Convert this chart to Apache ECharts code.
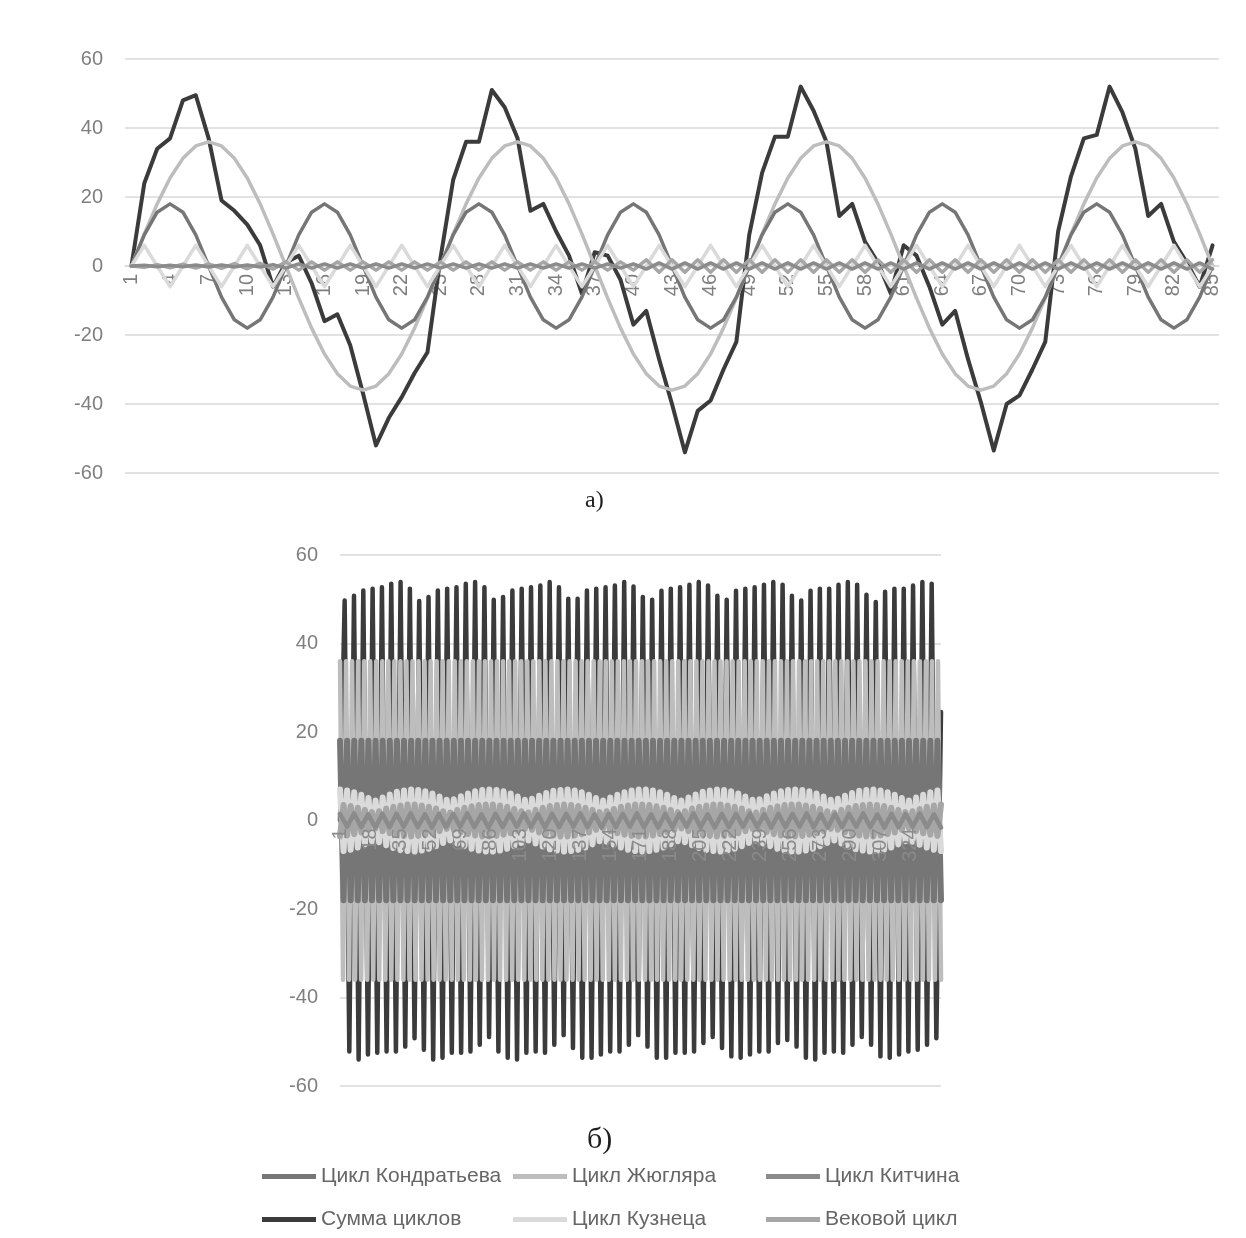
<!DOCTYPE html>
<html><head><meta charset="UTF-8">
<title>Циклы</title>
<script src="https://cdn.jsdelivr.net/npm/echarts@6/dist/echarts.min.js"></script>
<style>
    *{margin:0;padding:0;}
    html,body{width:100%;height:100%;background:#fff;}
    #chart{width:1246px;height:1238px;}
</style>
</head>
<body>
<div id="chart"></div>
<script>
    // --- а) 85 шагов ---
    var stepsA = [1,2,3,4,5,6,7,8,9,10,11,12,13,14,15,16,17,18,19,20,21,22,23,24,25,26,27,28,29,30,
        31,32,33,34,35,36,37,38,39,40,41,42,43,44,45,46,47,48,49,50,51,52,53,54,55,56,57,58,59,60,
        61,62,63,64,65,66,67,68,69,70,71,72,73,74,75,76,77,78,79,80,81,82,83,84,85];

    var kondratievA = [0,9,15.6,18,15.6,9,0,-9,-15.6,-18,-15.6,-9, 0,9,15.6,18,15.6,9,0,-9,-15.6,-18,-15.6,-9,
        0,9,15.6,18,15.6,9,0,-9,-15.6,-18,-15.6,-9, 0,9,15.6,18,15.6,9,0,-9,-15.6,-18,-15.6,-9,
        0,9,15.6,18,15.6,9,0,-9,-15.6,-18,-15.6,-9, 0,9,15.6,18,15.6,9,0,-9,-15.6,-18,-15.6,-9,
        0,9,15.6,18,15.6,9,0,-9,-15.6,-18,-15.6,-9, 0];

    var juglarA = [0,9.3,18,25.5,31.2,34.8,36,34.8,31.2,25.5,18,9.3,0,-9.3,-18,-25.5,-31.2,-34.8,-36,-34.8,-31.2,-25.5,-18,-9.3,
        0,9.3,18,25.5,31.2,34.8,36,34.8,31.2,25.5,18,9.3,0,-9.3,-18,-25.5,-31.2,-34.8,-36,-34.8,-31.2,-25.5,-18,-9.3,
        0,9.3,18,25.5,31.2,34.8,36,34.8,31.2,25.5,18,9.3,0,-9.3,-18,-25.5,-31.2,-34.8,-36,-34.8,-31.2,-25.5,-18,-9.3,
        0,9.3,18,25.5,31.2,34.8,36,34.8,31.2,25.5,18,9.3,0];

    var kitchinA = [0,0.2,-0.2,0.2,-0.2,0.3,-0.3,0.3,-0.3,0.3,-0.3,0.4,
        -0.6,0.6,-0.6,0.6,-0.6,0.6,-0.6,0.6,-0.6,0.6,-0.6,0.6,-0.6,0.6,
        -0.6,0.6,-0.6,0.6,-0.6,0.6,-0.6,0.6,-0.6,0.6,-0.6,0.6,-0.6,0.6,
        -0.9,0.9,-0.9,0.9,-0.9,0.9,-0.9,0.9,-0.9,0.9,-0.9,0.9,-0.9,0.9,-0.9,
        0.9,-0.9,0.9,-0.9,0.9,-0.9,0.9,-0.9,0.9,-0.9,0.9,-0.9,0.9,-0.9,0.9,
        -0.9,0.9,-0.9,0.9,-0.9,0.9,-0.9,0.9,-0.9,0.9,-0.9,0.9,-0.9,0.9,-0.9];

    var sumA = [0,24,34,37,48,49.5,37,19,16,12,6,-6,1,3,-5,-16,-14,-23,-37,-52,-44,-38,-31,-25,
        2,25,36,36,51,46,37,16,18,10,3,-8,4,3,-4,-17,-13,-27,-40,-54,-42,-39,-30,-22,
        9,27,37.5,37.5,52,45,36,14.5,18,7,1,-8,6,3,-6,-17,-13,-27,-39.5,-53.5,-40,-37.5,-30,-22,
        10,26,37,38,52,44.5,34,14.5,18,7,1,-6,6];

    var kuznetsA = [0,6,0,-6,0,6,0,-6,0,6,0,-6,0,6,0,-6,0,6,0,-6,0,6,0,-6,0,6,0,-6,0,6,0,-6,
        0,6,0,-6,0,6,0,-6,0,6,0,-6,0,6,0,-6,0,6,0,-6,0,6,0,-6,0,6,0,-6,0,6,0,-6,
        0,6,0,-6,0,6,0,-6,0,6,0,-6,0,6,0,-6,0,6,0,-6,0];

    var secularA = [0,-0.4,0.4,-0.5,0.5,-0.6,0.6,-0.7,0.7,-0.8,0.8,-0.9,
        1.2,-1.2,1.2,-1.2,1.2,-1.2,1.2,-1.2,1.2,-1.2,1.2,-1.2,1.2,-1.2,
        1.2,-1.2,1.2,-1.2,1.2,-1.2,1.2,-1.2,1.2,-1.2,1.2,-1.2,1.2,-1.2,
        1.8,-1.8,1.8,-1.8,1.8,-1.8,1.8,-1.8,1.8,-1.8,1.8,-1.8,1.8,-1.8,1.8,
        -1.8,1.8,-1.8,1.8,-1.8,1.8,-1.8,1.8,-1.8,1.8,-1.8,1.8,-1.8,1.8,-1.8,
        1.8,-1.8,1.8,-1.8,1.8,-1.8,1.8,-1.8,1.8,-1.8,1.8,-1.8,1.8,-1.8,1.8];

    // --- б) длинный ряд (шкала 0..340, подписи шагом 17) ---
    var sumTopsB = [49.7,50.8,52.0,52.4,52.7,53.5,53.9,52.4, 49.6,50.5,52.0,52.4,52.7,53.5,53.9,52.7,
        49.9,50.5,52.0,52.4,52.7,53.1,53.9,52.7, 50.1,50.1,52.0,52.4,52.7,53.1,53.9,52.9,
        50.5,49.9,51.9,52.4,52.7,53.3,53.9,53.1, 50.8,49.9,51.9,52.4,52.7,53.3,53.9,53.3,
        50.8,49.7,51.9,52.4,52.4,53.3,53.9,53.3, 51.0,49.4,51.7,52.4,52.4,53.1,53.9,53.5];
    var sumTroughsB = [-52.2,-54,-52.9,-52.5,-52.2,-52.2,-51.1,-49.2, -51.8,-54,-53.6,-52.5,-52.5,-52.2,-50.7,-48.9,
        -52.2,-53.6,-54,-52.5,-52.2,-52.5,-50.7,-48.5, -51.4,-53.6,-53.6,-52.9,-52.2,-52.2,-50.7,-48.5,
        -51.1,-53.6,-53.6,-52.5,-52.5,-52.2,-50.3,-48.9, -51.4,-53.3,-53.6,-52.9,-52.2,-52.2,-50.3,-49.6,
        -51.1,-53.6,-54,-52.5,-52.2,-52.5,-50.7,-48.9, -50.7,-53.3,-53.6,-52.9,-52.2,-51.8,-50.7,-49.2];
    var sumStartB = 0, sumEndB = 24.5;

    var juglarB = [36,-36,36,-36,36,-36,36,-36,36,-36,36,-36,36,-36,36,-36,36,-36,36,-36,
        36,-36,36,-36,36,-36,36,-36,36,-36,36,-36,36,-36,36,-36,36,-36,36,-36,
        36,-36,36,-36,36,-36,36,-36,36,-36,36,-36,36,-36,36,-36,36,-36,36,-36,
        36,-36,36,-36,36,-36,36,-36,36,-36,36,-36,36,-36,36,-36,36,-36,36,-36,
        36,-36,36,-36,36,-36,36,-36,36,-36,36,-36,36,-36,36,-36,36,-36,36,-36,
        36,-36,36,-36,36,-36,36,-36,36,-36,36,-36,36,-36,36,-36,36,-36,36,-36,
        36,-36,36,-36,36,-36,36,-36,36,-36,36,-36,36,-36,36,-36,36,-36,36,-36,
        36,-36,36,-36,36,-36,36,-36,36,-36,36,-36,36,-36,36,-36,36,-36,36,-36,
        36,-36,36,-36,36,-36,36,-36,36,-36,36,-36,36,-36,36,-36,36,-36,36,-36,
        36,-36,36,-36,36,-36,36,-36,36,-36,36,-36,36,-36,36,-36,36,-36,36,-36];

    var kondratievB = [18,-18,18,-18,18,-18,18,-18,18,-18,18,-18,18,-18,18,-18,18,-18,18,-18,
        18,-18,18,-18,18,-18,18,-18,18,-18,18,-18,18,-18,18,-18,18,-18,18,-18,
        18,-18,18,-18,18,-18,18,-18,18,-18,18,-18,18,-18,18,-18,18,-18,18,-18,
        18,-18,18,-18,18,-18,18,-18,18,-18,18,-18,18,-18,18,-18,18,-18,18,-18,
        18,-18,18,-18,18,-18,18,-18,18,-18,18,-18,18,-18,18,-18,18,-18,18,-18,
        18,-18,18,-18,18,-18,18,-18,18,-18,18,-18,18,-18,18,-18,18,-18,18,-18,
        18,-18,18,-18,18,-18,18,-18,18,-18,18,-18,18,-18,18,-18,18,-18,18,-18,
        18,-18,18,-18,18,-18,18,-18,18,-18,18,-18,18,-18,18,-18,18,-18,18,-18,
        18,-18,18,-18,18,-18,18,-18,18,-18];

    var kuznetsB = [7.0,-6.9,6.8,-6.6,6.4,-6.1,5.8,-5.4,5.1,-4.7,
        4.5,-4.9,5.2,-5.6,5.9,-6.2,6.5,-6.7,6.8,-6.9,7.0,-7.0,6.9,-6.8,6.6,-6.4,6.1,-5.8,5.4,-5.1,4.7,
        -4.5,4.8,-5.2,5.5,-5.8,6.1,-6.4,6.6,-6.8,6.9,-7.0,7.0,-7.0,6.9,-6.8,6.6,-6.4,6.1,-5.8,5.4,-5.1,4.7,
        -4.5,4.9,-5.2,5.6,-5.9,6.2,-6.5,6.7,-6.8,6.9,-7.0,7.0,-6.9,6.8,-6.6,6.4,-6.1,5.8,-5.4,5.1,-4.7,
        4.5,-4.8,5.2,-5.5,5.8,-6.1,6.4,-6.6,6.8,-6.9,7.0,-7.0,7.0,-6.9,6.8,-6.6,6.4,-6.1,5.8,-5.4,5.1,-4.7,
        4.5,-4.9,5.2,-5.6,5.9,-6.2,6.5,-6.7,6.8,-6.9,7.0,-7.0,6.9,-6.8,6.6,-6.4,6.1,-5.8,5.4,-5.1,4.7,
        -4.5,4.8,-5.2,5.5,-5.8,6.1,-6.4,6.6,-6.8,6.9,-7.0,7.0,-7.0,6.9,-6.8,6.6,-6.4,6.1,-5.8,5.4,-5.1,4.7,
        -4.5,4.9,-5.2,5.6,-5.9,6.2,-6.5,6.7,-6.8,6.9,-7.0,7.0,-6.9,6.8,-6.6,6.4,-6.1,5.8,-5.4,5.1,-4.7,
        4.5,-4.8,5.2,-5.5,5.8,-6.1,6.4,-6.6,6.8,-6.9];

    var secularB = [-3.6,3.5,-3.4,3.3,-3.1,2.9,-2.7,2.4,-2.1,1.9,
        -1.8,2.1,-2.4,2.7,-2.9,3.1,-3.3,3.4,-3.5,3.6,-3.6,3.6,-3.5,3.4,-3.3,3.1,-2.9,2.7,-2.4,2.1,-1.9,
        1.8,-2.1,2.4,-2.6,2.9,-3.1,3.2,-3.4,3.5,-3.6,3.6,-3.6,3.6,-3.5,3.4,-3.2,3.1,-2.9,2.6,-2.4,2.1,-1.9,
        1.8,-2.1,2.4,-2.7,2.9,-3.1,3.3,-3.4,3.5,-3.6,3.6,-3.6,3.5,-3.4,3.3,-3.1,2.9,-2.7,2.4,-2.1,1.9,
        -1.8,2.1,-2.4,2.6,-2.9,3.1,-3.2,3.4,-3.5,3.6,-3.6,3.6,-3.6,3.5,-3.4,3.2,-3.1,2.9,-2.6,2.4,-2.1,1.9,
        -1.8,2.1,-2.4,2.7,-2.9,3.1,-3.3,3.4,-3.5,3.6,-3.6,3.6,-3.5,3.4,-3.3,3.1,-2.9,2.7,-2.4,2.1,-1.9,
        1.8,-2.1,2.4,-2.6,2.9,-3.1,3.2,-3.4,3.5,-3.6,3.6,-3.6,3.6,-3.5,3.4,-3.2,3.1,-2.9,2.6,-2.4,2.1,-1.9,
        1.8,-2.1,2.4,-2.7,2.9,-3.1,3.3,-3.4,3.5,-3.6,3.6,-3.6,3.5,-3.4,3.3,-3.1,2.9,-2.7,2.4,-2.1,1.9,
        -1.8,2.1,-2.4,2.6,-2.9,3.1,-3.2,3.4,-3.5,3.6];

    var kitchinB = [1.5,-1.4,1.6,-1.5,1.4,-1.6,1.5,-1.5,1.5,-1.4,1.6,-1.5,1.4,-1.6,1.5,-1.5,
        1.5,-1.4,1.6,-1.5,1.4,-1.6,1.5,-1.5,1.5,-1.4,1.6,-1.5,1.4,-1.6,1.5,-1.5,
        1.5,-1.4,1.6,-1.5,1.4,-1.6,1.5,-1.5,1.5,-1.4,1.6,-1.5,1.4,-1.6,1.5,-1.5,
        1.5,-1.4,1.6,-1.5,1.4,-1.6,1.5,-1.5,1.5,-1.4,1.6,-1.5,1.4,-1.6,1.5,-1.5,
        1.5,-1.4,1.6,-1.5,1.4,-1.6,1.5,-1.5,1.5,-1.4,1.6,-1.5,1.4,-1.6,1.5,-1.5,
        1.5,-1.4,1.6,-1.5,1.4,-1.6];

    var colors = {
        'Цикл Кондратьева': '#767676',
        'Цикл Жюгляра': '#bdbdbd',
        'Цикл Китчина': '#8b8b8b',
        'Сумма циклов': '#3b3b3b',
        'Цикл Кузнеца': '#dadada',
        'Вековой цикл': '#a6a6a6'
    };
    var spanB = 340;

    // равномерно раскладываем значения по шкале б)
    function spread(vals) {
        var out = [];
        for (var i = 0; i < vals.length; i++) out.push([i * spanB / (vals.length - 1), vals[i]]);
        return out;
    }
    var sumB = [sumStartB];
    for (var i = 0; i < sumTopsB.length; i++) { sumB.push(sumTopsB[i]); sumB.push(sumTroughsB[i]); }
    sumB.push(sumEndB);

    function line(name, data, grid, z, w) {
        return {
            name: name, type: 'line', xAxisIndex: grid, yAxisIndex: grid,
            data: data, symbol: 'none', z: z, silent: true, animation: false,
            lineStyle: { color: colors[name], width: w, join: 'round', cap: 'round' },
            itemStyle: { color: colors[name] }
        };
    }

    var txtGray = '#7f7f7f';
    var labelFont = 'Liberation Sans';
    function yAx(grid) {
        return {
            type: 'value', gridIndex: grid, min: -60, max: 60, interval: 20,
            axisLine: { show: false }, axisTick: { show: false },
            axisLabel: { color: txtGray, fontSize: 20, fontFamily: labelFont, margin: 22 },
            splitLine: { lineStyle: { color: '#d9d9d9', width: 1.5 } }
        };
    }
    function legendCol(left, names) {
        return {
            orient: 'vertical', left: left, top: 1166, itemGap: 22, padding: 0,
            itemWidth: 54, itemHeight: 5, icon: 'rect', selectedMode: false,
            textStyle: { color: '#666', fontSize: 21, fontFamily: labelFont },
            data: names
        };
    }

    var chart = echarts.init(document.getElementById('chart'));
    chart.setOption({
        backgroundColor: '#fff',
        title: [
            { text: 'а)', left: 580, top: 484, textStyle: { fontFamily: 'Liberation Serif', fontSize: 24, fontWeight: 'normal', color: '#1e1e1e' } },
            { text: 'б)', left: 582, top: 1120, textStyle: { fontFamily: 'Liberation Serif', fontSize: 30, fontWeight: 'normal', color: '#1e1e1e' } }
        ],
        legend: [
            legendCol(262, ['Цикл Кондратьева', 'Сумма циклов']),
            legendCol(513, ['Цикл Жюгляра', 'Цикл Кузнеца']),
            legendCol(766, ['Цикл Китчина', 'Вековой цикл'])
        ],
        grid: [
            { left: 125, top: 59, width: 1094, height: 414 },
            { left: 340, top: 555, width: 601, height: 531 }
        ],
        xAxis: [
            {
                // ось проходит через ноль: сдвигаем её на половину высоты сетки
                type: 'category', gridIndex: 0, data: stepsA, boundaryGap: true, offset: -207,
                axisLine: { onZero: false, lineStyle: { color: '#d9d9d9', width: 1.5 } },
                axisTick: { show: false },
                axisLabel: { interval: 2, rotate: 90, color: txtGray, fontSize: 20, fontFamily: labelFont, margin: 8 },
                splitLine: { show: false }
            },
            {
                type: 'value', gridIndex: 1, min: 0, max: spanB, interval: 17, offset: -265.5, z: 10,
                axisLine: { show: false, onZero: false },
                axisTick: { show: false },
                axisLabel: {
                    rotate: 90, color: '#8a8a8a', fontSize: 20, fontFamily: labelFont, margin: 8,
                    showMaxLabel: false,
                    formatter: function (v) { return v >= spanB ? '' : String(v + 1); }
                },
                splitLine: { show: false }
            }
        ],
        yAxis: [yAx(0), yAx(1)],
        series: [
            line('Сумма циклов', sumA, 0, 2, 4),
            line('Цикл Жюгляра', juglarA, 0, 3, 3.5),
            line('Цикл Кондратьева', kondratievA, 0, 4, 3.5),
            line('Цикл Кузнеца', kuznetsA, 0, 5, 3.5),
            line('Вековой цикл', secularA, 0, 6, 3.5),
            line('Цикл Китчина', kitchinA, 0, 7, 3.5),

            line('Сумма циклов', spread(sumB), 1, 2, 4.5),
            line('Цикл Жюгляра', spread(juglarB), 1, 3, 4.5),
            line('Цикл Кондратьева', spread(kondratievB), 1, 4, 6),
            line('Цикл Кузнеца', spread(kuznetsB), 1, 5, 6),
            line('Вековой цикл', spread(secularB), 1, 6, 6),
            line('Цикл Китчина', spread(kitchinB), 1, 7, 4.5)
        ]
    });
</script>
</body></html>
